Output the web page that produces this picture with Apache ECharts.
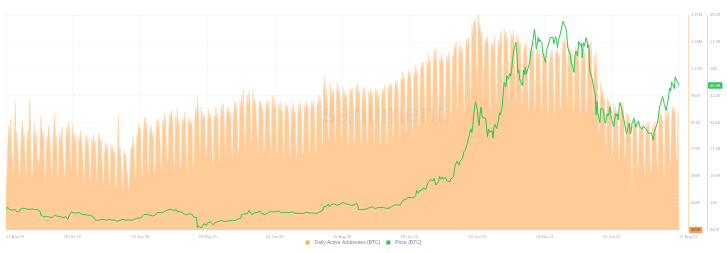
<!DOCTYPE html>
<html><head><meta charset="utf-8">
<script src="https://cdn.jsdelivr.net/npm/echarts@6/dist/echarts.min.js"></script>
<style>html,body{margin:0;padding:0;background:#fff}#c{width:727px;height:253px}</style>
</head><body><div id="c"></div>
<script>
// Daily values from 17 Aug 2019 to 17 Aug 2021
const startDateUTC = [2019, 7, 17];
const xTickLabels = ['17 Aug 19','28 Oct 19','10 Jan 20','23 Mar 20','04 Jun 20','16 Aug 20','28 Oct 20','10 Jan 21','24 Mar 21','05 Jun 21','17 Aug 21'];
const addrTickLabels = ['325K','456K','588K','719K','851K','982K','1.11M','1.24M','1.37M'];
const priceTickLabels = ['4429','12K','19.6K','27.2K','34.8K','42.4K','50K','57.6K','65.2K'];

// Daily Active Addresses (BTC), thousands; rows = weeks Sat..Fri
const activeAddresses = [
520,590,745,835,780,862,720,
655,600,815,948,760,805,712,
618,575,730,812,858,770,790,
640,560,810,762,835,968,735,
585,610,790,845,740,795,700,
640,660,742,880,812,770,805,
600,548,780,742,835,800,728,
630,585,745,820,890,750,782,
570,598,800,755,790,830,708,
625,560,755,835,770,852,812,
665,602,838,772,800,745,790,
598,585,788,745,812,770,700,
612,548,730,790,742,780,716,
560,575,770,728,795,740,760,
618,552,742,800,752,770,700,
590,530,700,760,712,745,682,
548,560,742,705,735,690,712,
525,540,680,885,700,728,662,
568,505,712,682,700,610,600,
520,555,665,735,720,780,728,
615,560,790,770,845,812,830,
640,578,762,850,880,820,845,
620,610,830,795,838,772,800,
598,625,800,872,820,858,790,
660,598,855,828,890,862,870,
642,665,840,895,872,912,850,
675,612,880,820,918,845,860,
620,640,800,872,840,900,820,
668,598,875,838,868,830,855,
625,650,850,925,870,975,905,
742,672,925,862,895,858,880,
690,705,862,912,860,895,830,
675,628,885,860,925,870,895,
712,650,868,935,882,945,860,
690,695,925,890,918,875,900,
715,660,880,945,905,950,885,
700,712,955,925,985,920,1010,
765,700,918,985,930,1005,945,
745,770,1010,935,965,940,948,
760,700,962,930,955,898,920,
705,725,900,955,915,958,900,
760,695,985,912,972,925,935,
705,715,940,905,948,890,915,
725,668,890,945,905,935,870,
682,695,925,885,948,880,905,
712,655,880,940,895,945,878,
690,705,935,900,958,915,935,
730,680,898,955,920,960,890,
700,718,955,925,985,930,965,
785,725,1020,1075,960,1012,950,
765,775,1045,960,1015,980,1005,
812,745,990,1048,980,1015,950,
760,785,1025,970,1005,965,985,
780,715,960,1015,985,1020,948,
752,765,1028,990,1045,978,1005,
785,712,965,1025,958,1015,950,
740,768,1005,975,1015,980,1002,
790,725,1015,980,1012,958,985,
742,755,960,1015,982,1035,962,
790,730,1025,990,1045,1020,1035,
770,795,1000,1055,1018,1058,990,
825,762,1065,1045,1100,1040,1068,
800,815,1040,1105,1068,1095,1030,
855,785,1095,1065,1130,1080,1105,
830,845,1075,1145,1110,1150,1085,
885,812,1145,1118,1185,1130,1150,
860,875,1125,1205,1150,1210,1120,
895,825,1165,1138,1190,1140,1155,
862,872,1120,1175,1140,1195,1130,
915,845,1175,1160,1225,1210,1245,
910,925,1225,1170,1235,1180,1205,
945,880,1170,1255,1228,1265,1250,
1025,960,1325,1262,1345,1330,1360,
1120,1035,1375,1310,1325,1270,1290,
960,965,1215,1262,1240,1275,1210,
965,895,1235,1210,1245,1180,1270,
940,955,1190,1255,1220,1270,1300,
1015,950,1310,1260,1295,1240,1262,
960,985,1230,1285,1250,1300,1240,
1025,960,1285,1230,1262,1210,1235,
930,945,1180,1235,1200,1238,1170,
955,890,1215,1185,1240,1180,1210,
920,935,1178,1215,1160,1210,1150,
945,880,1200,1150,1185,1130,1155,
880,905,1140,1190,1160,1210,1150,
945,870,1200,1178,1215,1160,1185,
910,935,1180,1250,1230,1262,1200,
985,910,1235,1180,1210,1160,1190,
900,925,1170,1220,1190,1212,1150,
925,860,1190,1160,1210,1180,1195,
895,915,1160,1210,1190,1250,1180,
965,900,1175,1100,1200,1060,1065,
800,815,1050,980,1010,960,970,
770,700,970,935,960,925,940,
690,705,940,880,930,895,910,
725,650,880,930,900,950,885,
670,685,900,865,890,840,860,
685,500,830,880,830,860,800,
620,645,850,815,845,805,830,
655,590,800,850,815,855,790,
600,625,830,800,850,815,850,
665,600,870,900,880,890,860,
640,560,900,850,910,880,900,
700,640,880,930,900,925,860,
660,675,905,325
];

// Price (BTC), thousands USD, daily
const priceBTC = [
// Aug 2019 (17-31)
10.2,10.4,10.9,10.8,10.1,10.1,10.4,10.1,10.1,10.4,10.2,9.7,9.5,9.6,9.6,
// Sep 2019
9.8,10.4,10.6,10.6,10.6,10.3,10.5,10.4,10.3,10.1,10.2,10.4,10.4,10.4,10.3,10.3,10.2,10.2,10.3,10.2,10.0,10.0,9.7,8.6,8.4,8.1,8.2,8.2,8.0,8.3,
// Oct 2019
8.3,8.3,8.1,8.2,8.1,7.9,8.2,8.2,8.6,8.6,8.3,8.3,8.3,8.4,8.2,8.0,8.1,7.95,7.95,8.2,8.2,8.0,7.4,7.45,8.7,9.2,9.55,9.25,9.4,9.2,9.2,
// Nov 2019
9.25,9.3,9.2,9.4,9.3,9.35,9.2,8.8,8.8,9.05,8.75,8.8,8.75,8.65,8.5,8.5,8.55,8.2,8.1,8.1,7.6,7.3,7.3,6.95,7.1,7.2,7.5,7.45,7.75,7.55,
// Dec 2019
7.4,7.3,7.3,7.2,7.4,7.55,7.5,7.5,7.35,7.2,7.2,7.2,7.25,7.05,7.1,6.9,6.6,7.3,7.15,7.2,7.15,7.5,7.3,7.25,7.2,7.2,7.25,7.3,7.4,7.3,7.2,
// Jan 2020
7.2,7.0,7.35,7.4,7.4,7.75,8.15,8.05,7.8,8.2,8.0,8.2,8.1,8.8,8.8,8.7,8.9,8.9,8.7,8.65,8.75,8.65,8.4,8.45,8.35,8.6,8.9,9.35,9.3,9.5,9.35,
// Feb 2020
9.4,9.35,9.3,9.2,9.6,9.8,9.85,9.9,10.15,9.85,10.25,10.35,10.25,10.35,9.9,9.9,9.7,10.2,9.6,9.6,9.7,9.65,9.95,9.65,9.3,8.8,8.8,8.7,8.55,
// Mar 2020
8.55,8.9,8.75,8.75,9.05,9.1,8.9,8.1,7.9,7.9,7.95,4.97,5.56,5.2,5.4,5.0,5.3,5.4,6.2,6.2,6.2,5.8,6.5,6.75,6.7,6.75,6.45,6.25,5.9,6.4,6.45,
// Apr 2020
6.65,6.8,6.75,6.85,6.8,7.3,7.2,7.35,7.3,6.85,6.9,6.9,6.85,6.85,6.65,7.1,7.05,7.25,7.15,6.85,6.85,7.1,7.5,7.55,7.55,7.7,7.8,7.75,8.8,8.65,
// May 2020
8.85,8.95,8.9,8.9,9.0,9.15,9.95,9.85,9.55,8.75,8.6,8.8,9.3,9.8,9.3,9.4,9.7,9.75,9.75,9.5,9.05,9.15,9.2,8.8,8.9,8.85,9.2,9.55,9.45,9.7,9.45,
// Jun 2020
10.2,9.5,9.65,9.8,9.65,9.75,9.75,9.8,9.75,9.85,9.3,9.45,9.5,9.4,9.45,9.5,9.45,9.4,9.3,9.35,9.3,9.65,9.6,9.3,9.25,9.15,9.0,9.1,9.2,9.15,
// Jul 2020
9.25,9.1,9.05,9.15,9.1,9.35,9.25,9.45,9.25,9.3,9.25,9.3,9.25,9.25,9.2,9.15,9.15,9.2,9.2,9.15,9.4,9.55,9.6,9.55,9.7,9.95,11.0,10.9,11.1,11.1,11.35,
// Aug 2020
11.8,11.05,11.25,11.2,11.75,11.75,11.6,11.75,11.7,11.9,11.4,11.55,11.8,11.75,11.85,11.9,12.25,11.95,11.75,11.85,11.55,11.65,11.65,11.75,11.35,11.45,11.3,11.5,11.5,11.7,11.65,
// Sep 2020
12.0,11.4,10.2,10.5,10.15,10.25,10.35,10.1,10.25,10.35,10.4,10.45,10.3,10.65,10.8,10.95,10.95,10.95,11.1,10.9,10.45,10.55,10.25,10.75,10.7,10.75,10.8,10.7,10.85,10.8,
// Oct 2020
10.6,10.6,10.55,10.65,10.8,10.6,10.65,10.9,11.05,11.3,11.4,11.55,11.45,11.45,11.5,11.3,11.35,11.5,11.75,11.9,12.8,12.95,12.95,13.1,13.05,13.05,13.65,13.3,13.45,13.55,13.8,
// Nov 2020
13.75,13.55,14.0,14.15,15.6,15.6,14.85,15.5,15.3,15.3,15.7,16.3,16.3,16.05,15.95,16.7,17.7,17.8,17.8,18.65,18.7,18.4,18.35,19.1,18.7,17.15,17.1,17.7,18.2,19.6,
// Dec 2020
18.8,19.2,19.45,18.7,19.15,19.35,19.2,18.3,18.55,18.25,18.05,18.8,19.15,19.25,19.45,21.3,22.8,23.1,23.85,23.5,22.75,23.8,23.25,23.7,24.7,26.45,26.3,27.1,27.35,28.85,29.0,
// Jan 2021
29.4,32.1,33.0,32.0,34.0,36.8,39.4,40.7,40.25,38.25,35.5,34.0,37.4,39.2,36.8,36.2,35.8,36.6,36.05,35.5,30.8,33.0,32.1,32.3,32.4,32.5,30.4,33.5,34.3,34.3,33.1,
// Feb 2021
33.5,35.5,37.6,36.95,38.3,39.25,38.9,46.2,46.5,44.9,48.0,47.5,47.1,48.7,47.9,49.2,52.1,51.6,55.9,55.9,57.5,54.2,48.8,49.7,47.1,46.3,46.2,45.2,
// Mar 2021
49.6,48.4,50.5,48.4,48.8,48.9,51.0,52.3,54.9,55.9,57.3,57.2,61.2,59.0,55.6,56.9,58.9,57.6,58.3,58.1,57.4,54.5,54.2,52.8,51.7,55.1,55.9,55.8,57.6,58.8,58.8,
// Apr 2021
59.0,59.0,57.1,58.2,59.1,58.0,56.0,58.1,58.1,59.8,60.0,59.9,63.5,62.9,63.1,61.6,60.3,56.2,55.7,56.5,53.8,51.7,51.1,50.1,49.0,54.0,55.0,54.8,53.6,57.8,
// May 2021
57.8,56.6,57.2,53.2,57.4,56.4,57.4,58.8,58.2,55.9,56.8,49.5,49.7,49.9,46.8,46.4,43.5,42.9,37.0,40.8,37.3,37.5,34.8,38.8,38.5,39.3,38.5,35.7,34.6,35.7,37.3,
// Jun 2021
36.7,37.6,39.2,36.9,35.6,35.8,33.6,33.4,37.3,36.7,37.3,35.6,39.1,40.5,40.1,38.3,38.1,35.8,35.5,35.6,31.7,32.5,33.7,34.7,31.6,32.2,34.6,34.5,35.9,35.0,
// Jul 2021
33.5,33.8,34.7,35.3,33.7,34.2,33.9,32.9,33.8,33.5,34.3,33.1,32.7,32.8,31.8,31.4,31.5,31.8,30.8,29.8,32.1,32.3,33.6,34.3,35.4,37.3,39.4,40.0,40.0,42.2,41.6,
// Aug 2021 (1-17)
39.9,39.2,38.2,39.7,40.9,42.8,44.6,43.8,46.3,45.6,45.6,44.4,47.8,47.1,47.0,45.9,45.3
];

const MONTHS = ['Jan','Feb','Mar','Apr','May','Jun','Jul','Aug','Sep','Oct','Nov','Dec'];
const categories = [];
const t0 = Date.UTC(startDateUTC[0], startDateUTC[1], startDateUTC[2]);
for (let i = 0; i < activeAddresses.length; i++) {
  const d = new Date(t0 + i * 86400000);
  categories.push(String(d.getUTCDate()).padStart(2, '0') + ' ' + MONTHS[d.getUTCMonth()] + ' ' + String(d.getUTCFullYear()).slice(2));
}
const labelSet = new Set(xTickLabels);

const FONT = '"Liberation Sans", Arial, sans-serif';
const AX = '#9faac4';
const ADDR_MIN = 325, ADDR_MAX = 1375, ADDR_STEP = 131.25;
const PRICE_MIN = 4.429, PRICE_MAX = 65.229, PRICE_STEP = 7.6;
const lastAddr = activeAddresses[activeAddresses.length - 1];
const lastPrice = priceBTC[priceBTC.length - 1];

const chart = echarts.init(document.getElementById('c'), null, { renderer: 'canvas' });
chart.setOption({
  animation: false,
  textStyle: { fontFamily: FONT },
  grid: { left: 6, right: 48, top: 15, bottom: 23 },
  legend: {
    bottom: 3, left: 'center', icon: 'rect', itemWidth: 4, itemHeight: 4, itemGap: 6,
    textStyle: { fontSize: 5, color: '#7a859e', fontFamily: FONT },
    data: ['Daily Active Addresses (BTC)', 'Price (BTC)']
  },
  graphic: [{
    type: 'text', left: 322, top: 101, z: 100, silent: true,
    style: { text: 'santiment.', fontSize: 28, fontFamily: FONT, fill: 'rgba(120,120,120,0.09)' }
  }],
  xAxis: {
    type: 'category', data: categories, boundaryGap: false,
    axisLine: { show: false }, axisTick: { show: false },
    axisLabel: {
      interval: (i, v) => labelSet.has(v), fontSize: 4, color: AX, margin: 5,
      alignMinLabel: 'left', alignMaxLabel: 'left'
    },
    splitLine: { show: true, interval: (i, v) => labelSet.has(v), lineStyle: { color: '#e6e9f0', type: [2, 2], width: 0.6 } }
  },
  yAxis: [{
    type: 'value', position: 'right', offset: 9,
    min: ADDR_MIN, max: ADDR_MAX, interval: ADDR_STEP,
    axisLine: { show: true, lineStyle: { color: '#ffdcb8', width: 1 } },
    axisTick: { show: false },
    axisLabel: {
      fontSize: 4, color: AX, margin: 3, showMinLabel: false,
      formatter: v => addrTickLabels[Math.round((v - ADDR_MIN) / ADDR_STEP)]
    },
    splitLine: { show: true, lineStyle: { color: '#e6e9f0', type: [2, 2], width: 0.6 } }
  }, {
    type: 'value', position: 'right', offset: 28,
    min: PRICE_MIN, max: PRICE_MAX, interval: PRICE_STEP,
    axisLine: { show: true, lineStyle: { color: '#bdeccb', width: 1 } },
    axisTick: { show: false },
    axisLabel: {
      fontSize: 4, color: AX, margin: 3,
      formatter: v => priceTickLabels[Math.round((v - PRICE_MIN) / PRICE_STEP)]
    },
    splitLine: { show: false }
  }],
  series: [{
    name: 'Daily Active Addresses (BTC)', type: 'line', yAxisIndex: 0, data: activeAddresses,
    showSymbol: false, symbol: 'none', clip: false, z: 1,
    lineStyle: { width: 0.5, color: '#ffd2a6' },
    areaStyle: { color: '#ffcc99', opacity: 1, origin: 'start' },
    itemStyle: { color: '#ffad4d' },
    markLine: {
      silent: true, symbol: 'none', animation: false,
      lineStyle: { color: 'transparent', width: 0 },
      label: {
        position: 'end', distance: 10, formatter: () => lastAddr + 'K',
        backgroundColor: '#f3a35a', color: '#5a3414', fontSize: 4, padding: [1.5, 2, 1, 2], borderRadius: 1
      },
      data: [{ yAxis: lastAddr }]
    }
  }, {
    name: 'Price (BTC)', type: 'line', yAxisIndex: 1, data: priceBTC,
    showSymbol: false, symbol: 'none', clip: false, z: 3,
    lineStyle: { width: 1, color: '#26c953' },
    itemStyle: { color: '#26c953' },
    markLine: {
      silent: true, symbol: 'none', animation: false,
      lineStyle: { color: 'transparent', width: 0 },
      label: {
        position: 'end', distance: 29, formatter: () => lastPrice + 'K',
        backgroundColor: '#2fc65a', color: '#ffffff', fontSize: 4, padding: [1.5, 2, 1, 2], borderRadius: 1
      },
      data: [{ yAxis: lastPrice }]
    }
  }]
});
</script>
</body></html>
